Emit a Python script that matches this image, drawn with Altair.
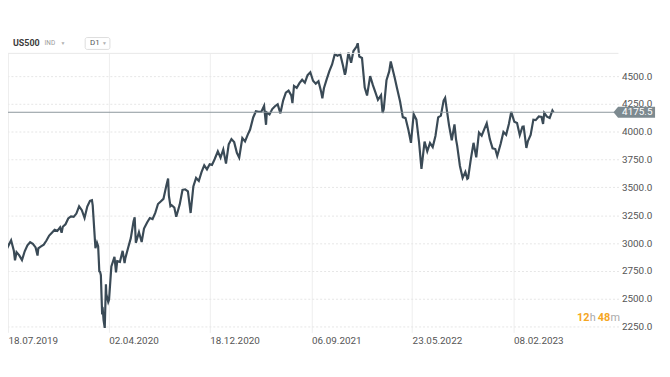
import altair as alt
import pandas as pd

dates = [
    "2019-07-18","2019-07-19","2019-07-26","2019-08-02","2019-08-05","2019-08-09","2019-08-16","2019-08-23","2019-08-30",
    "2019-09-06","2019-09-13","2019-09-20","2019-09-27","2019-10-02","2019-10-04","2019-10-11","2019-10-18","2019-10-25",
    "2019-11-01","2019-11-08","2019-11-15","2019-11-22","2019-11-29","2019-12-03","2019-12-06","2019-12-13","2019-12-20","2019-12-27",
    "2020-01-03","2020-01-10","2020-01-17","2020-01-24","2020-01-31","2020-02-07","2020-02-14","2020-02-19","2020-02-21","2020-02-28",
    "2020-03-03","2020-03-06","2020-03-09","2020-03-11","2020-03-13","2020-03-16","2020-03-18","2020-03-20","2020-03-23","2020-03-26",
    "2020-03-27","2020-04-01","2020-04-03","2020-04-09","2020-04-17","2020-04-21","2020-04-24","2020-05-01","2020-05-08","2020-05-13",
    "2020-05-15","2020-05-22","2020-05-29","2020-06-05","2020-06-08","2020-06-11","2020-06-19","2020-06-26","2020-07-02","2020-07-10",
    "2020-07-17","2020-07-24","2020-07-31","2020-08-07","2020-08-14","2020-08-21","2020-08-28","2020-09-02","2020-09-04","2020-09-08",
    "2020-09-11","2020-09-18","2020-09-23","2020-10-02","2020-10-09","2020-10-16","2020-10-23","2020-10-30","2020-11-06","2020-11-13",
    "2020-11-20","2020-11-27","2020-12-04","2020-12-11","2020-12-18","2020-12-24","2020-12-31",
    "2021-01-08","2021-01-15","2021-01-22","2021-01-29","2021-02-05","2021-02-12","2021-02-19","2021-02-26","2021-03-04","2021-03-12",
    "2021-03-19","2021-03-26","2021-04-01","2021-04-09","2021-04-16","2021-04-23","2021-04-30","2021-05-07","2021-05-12","2021-05-14",
    "2021-05-21","2021-05-28","2021-06-04","2021-06-11","2021-06-18","2021-06-25","2021-07-02","2021-07-09","2021-07-16","2021-07-19",
    "2021-07-23","2021-07-30","2021-08-06","2021-08-13","2021-08-20","2021-08-27","2021-09-03","2021-09-10","2021-09-17","2021-09-24",
    "2021-10-01","2021-10-04","2021-10-08","2021-10-15","2021-10-22","2021-10-29","2021-11-05","2021-11-12","2021-11-19","2021-11-26",
    "2021-12-01","2021-12-03","2021-12-10","2021-12-17","2021-12-23","2021-12-31",
    "2022-01-03","2022-01-07","2022-01-14","2022-01-21","2022-01-27","2022-02-04","2022-02-11","2022-02-18","2022-02-24","2022-03-04",
    "2022-03-08","2022-03-11","2022-03-18","2022-03-25","2022-03-29","2022-04-08","2022-04-14","2022-04-22","2022-04-29","2022-05-06",
    "2022-05-13","2022-05-20","2022-05-27","2022-06-03","2022-06-10","2022-06-16","2022-06-24","2022-07-01","2022-07-08","2022-07-15",
    "2022-07-22","2022-07-29","2022-08-05","2022-08-12","2022-08-16","2022-08-19","2022-08-26","2022-09-02","2022-09-09","2022-09-13",
    "2022-09-16","2022-09-23","2022-09-30","2022-10-07","2022-10-12","2022-10-14","2022-10-21","2022-10-28","2022-11-04","2022-11-11",
    "2022-11-18","2022-11-25","2022-12-01","2022-12-09","2022-12-16","2022-12-23","2022-12-28","2023-01-06","2023-01-13","2023-01-20",
    "2023-01-27","2023-02-02","2023-02-10","2023-02-17","2023-02-24","2023-03-03","2023-03-06","2023-03-13","2023-03-17","2023-03-24",
    "2023-03-31","2023-04-06","2023-04-14","2023-04-21","2023-04-25","2023-04-28","2023-05-05","2023-05-12","2023-05-19","2023-05-22",
]
values = [
    2995,2976,3025,2932,2844,2918,2889,2847,2926,
    2979,3007,2992,2961,2887,2952,2970,2986,3023,
    3067,3093,3120,3110,3141,3093,3146,3169,3221,3240,
    3235,3265,3330,3295,3226,3328,3380,3386,3338,2954,
    3003,2972,2746,2741,2711,2386,2398,2305,2237,2630,
    2541,2470,2489,2790,2875,2737,2837,2831,2930,2820,
    2864,2955,3044,3194,3232,3002,3098,3009,3130,3185,
    3225,3216,3271,3351,3373,3397,3508,3580,3427,3332,
    3341,3319,3237,3348,3477,3483,3465,3270,3509,3585,
    3558,3638,3699,3663,3709,3703,3756,
    3824,3768,3841,3714,3887,3934,3907,3811,3768,3943,
    3913,3975,4020,4129,4185,4180,4181,4233,4063,4174,
    4156,4204,4230,4247,4166,4281,4352,4370,4327,4258,
    4412,4395,4437,4468,4442,4509,4535,4459,4433,4455,
    4357,4300,4391,4471,4545,4605,4697,4683,4698,4595,
    4513,4538,4712,4621,4726,4766,
    4796,4677,4663,4398,4326,4501,4419,4349,4288,4329,
    4170,4204,4463,4543,4632,4488,4393,4272,4132,4123,
    4024,3901,4158,4109,3901,3667,3912,3825,3899,3863,
    3962,4130,4145,4280,4305,4228,4058,3924,4067,3932,
    3873,3693,3586,3640,3577,3583,3752,3901,3771,3993,
    3965,4026,4077,3934,3852,3845,3783,3895,3999,3973,
    4071,4179,4090,4079,3970,4046,4048,3855,3917,3971,
    4109,4105,4138,4133,4071,4169,4136,4124,4192,4175.5,
]

y_ticks = [2250, 2500, 2750, 3000, 3250, 3500, 3750, 4000, 4250, 4500]
x_tick_dates = [(2019, 7, 18), (2020, 4, 2), (2020, 12, 18), (2021, 9, 6), (2022, 5, 23), (2023, 2, 8)]
last_price = 4175.5

df = pd.DataFrame({"date": dates, "price": values})

FONT = "Roboto"
W, H = 617, 282

xscale = alt.Scale(type="utc",
                   domain=[alt.DateTime(year=2019, month=7, date=18, utc=True),
                           alt.DateTime(year=2023, month=11, date=5, utc=True)])
yscale = alt.Scale(domain=[2197, 4705], nice=False, zero=False)

yaxis = alt.Axis(orient="right", values=y_ticks, format=".1f",
                 labelPadding=3, labelFontSize=10, labelColor="#555", labelFont=FONT,
                 labelOverlap=False, labelBound=False,
                 domain=False, ticks=False, title=None,
                 grid=True, gridColor="#e6e6e6", gridDash=[2, 2], gridWidth=1)

line = alt.Chart(df).mark_line(color="#3a4a56", strokeWidth=2.2, clip=False).encode(
    x=alt.X("date:T", scale=xscale,
            axis=alt.Axis(values=[alt.DateTime(year=a, month=b, date=c, utc=True) for a, b, c in x_tick_dates],
                          labelExpr="utcFormat(datum.value, '%d.%m.%Y')",
                          labelAlign="left", labelBaseline="top", labelPadding=3,
                          labelFontSize=10, labelColor="#555", labelFont=FONT,
                          labelOverlap=False,
                          domain=False, ticks=False, title=None,
                          grid=True, gridColor="#eeeeee", gridWidth=1)),
    y=alt.Y("price:Q", scale=yscale, axis=yaxis),
)

pdf = pd.DataFrame({"price": [last_price], "label": [f"{last_price:.1f}"]})
ref = alt.Chart(pdf).mark_rule(color="#8d979c", strokeWidth=1).encode(
    y=alt.Y("price:Q", scale=yscale, axis=yaxis))
tag = alt.Chart(pdf).mark_point(
    shape="M-1,0L-0.78,-0.26L1,-0.26L1,0.26L-0.78,0.26Z",
    filled=True, size=1764, color="#7d8a90", opacity=1
).encode(x=alt.value(633), y=alt.Y("price:Q", scale=yscale, axis=yaxis))
tag_text = alt.Chart(pdf).mark_text(color="white", fontSize=10, font=FONT, align="center", baseline="middle").encode(
    x=alt.value(636), y=alt.Y("price:Q", scale=yscale, axis=yaxis), text="label:N")

top_rule = alt.Chart(pdf).mark_rule(color="#e8e8e8").encode(
    x=alt.value(0), x2=alt.value(W), y=alt.value(0))

hdr = pd.DataFrame({
    "t": ["US500", "IND", "▼", "D1", "▼"],
    "x": [5, 37, 53, 83, 95],
    "s": [9, 6.5, 5, 8, 5],
    "w": ["bold", "normal", "normal", "normal", "normal"],
    "c": ["#3c3c3c", "#999999", "#b0b0b0", "#555555", "#b0b0b0"],
})
box = alt.Chart(pdf).mark_rect(fill="white", stroke="#dddddd", strokeWidth=1, cornerRadius=2).encode(
    x=alt.value(78), x2=alt.value(103), y=alt.value(-16), y2=alt.value(-4))
hdr_layers = []
for _, r in hdr.iterrows():
    hdr_layers.append(
        alt.Chart(pd.DataFrame({"t": [r["t"]]})).mark_text(
            align="left", baseline="middle", fontSize=float(r["s"]), fontWeight=r["w"],
            color=r["c"], font=FONT
        ).encode(x=alt.value(int(r["x"])), y=alt.value(-10), text="t:N")
    )

timer = [("12", 575, "#f5a623", "bold"), ("h", 588, "#aaaaaa", "normal"),
         ("48", 596, "#f5a623", "bold"), ("m", 609, "#aaaaaa", "normal")]
timer_layers = [
    alt.Chart(pd.DataFrame({"t": [t]})).mark_text(
        align="left", baseline="middle", fontSize=11, fontWeight=w, color=c, font=FONT
    ).encode(x=alt.value(xx), y=alt.value(268), text="t:N")
    for t, xx, c, w in timer
]

chart = alt.layer(line, top_rule, ref, tag, tag_text, box, *hdr_layers, *timer_layers).properties(
    width=W, height=H,
    autosize=alt.AutoSizeParams(type="none"),
    padding={"left": 0, "top": 44, "right": 44, "bottom": 20},
    background="white",
).configure_view(stroke=None).configure_axis(labelOverlap=False)

chart.save("out.html", embed_options={"renderer": "svg", "actions": False})
